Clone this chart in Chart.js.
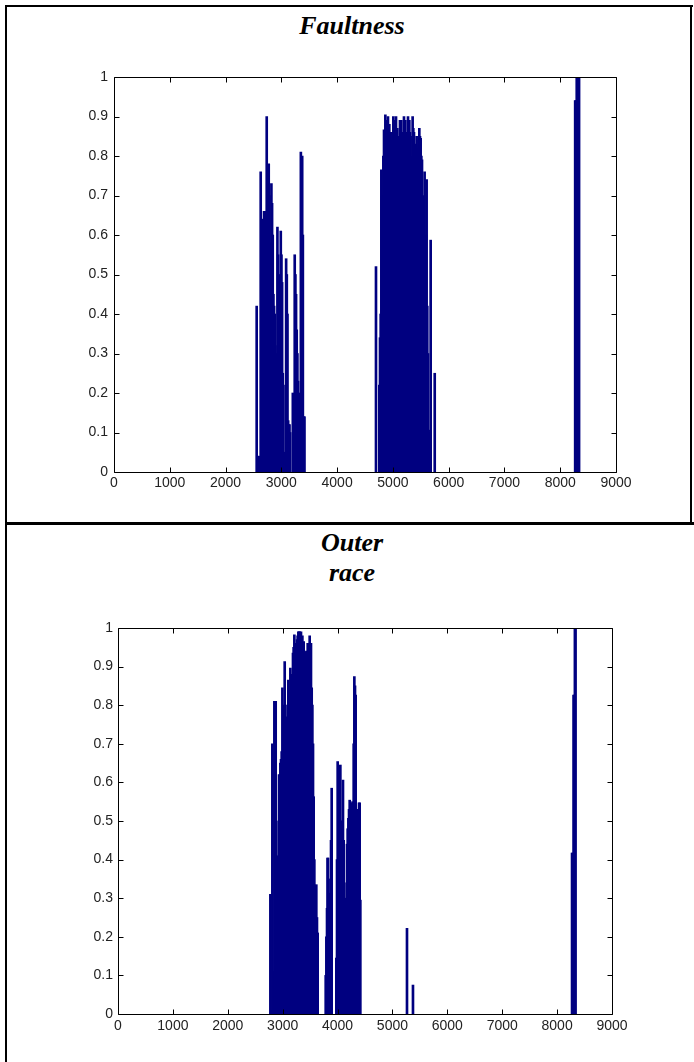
<!DOCTYPE html>
<html>
<head>
<meta charset="utf-8">
<script src="https://cdn.jsdelivr.net/npm/chart.js@4.4.1/dist/chart.umd.min.js"></script>
<style>
  html, body { margin: 0; padding: 0; background: #fff; }
  body { width: 694px; height: 1062px; position: relative; overflow: hidden; }
  .line { position: absolute; background: #000; }
  .title { position: absolute; font-family: "Liberation Serif", "Times New Roman", serif; font-weight: bold; font-style: italic; font-size: 26px; color: #000; text-align: center; line-height: 30px; }
  canvas { position: absolute; left: 0; }
</style>
</head>
<body>
<div class="line" style="left:5px;top:5px;width:688px;height:2px;"></div>
<div class="line" style="left:5px;top:5px;width:2px;height:1057px;"></div>
<div class="line" style="left:690px;top:5px;width:2px;height:518px;"></div>
<div class="line" style="left:5px;top:522px;width:689px;height:3px;"></div>
<div class="title" id="t1" style="left:252px;top:11px;width:200px;">Faultness</div>
<div class="title" id="t2" style="left:252px;top:528px;width:200px;">Outer<br>race</div>
<canvas id="c1" width="694" height="523" style="top:0;"></canvas>
<canvas id="c2" width="694" height="538" style="top:524px;"></canvas>
<script>
// ---------- data ----------
const xTickValues = [0, 1000, 2000, 3000, 4000, 5000, 6000, 7000, 8000, 9000];
const yTickValues = [0, 0.1, 0.2, 0.3, 0.4, 0.5, 0.6, 0.7, 0.8, 0.9, 1];

const faultX = [
  2558, 2582, 2600, 2630, 2642, 2654, 2666, 2678, 2690, 2702, 2714, 2726, 2738, 2750, 2762, 2774, 2786, 2798, 2810, 2822,
  2834, 2846, 2858, 2870, 2882, 2894, 2906, 2918, 2930, 2942, 2954, 2966, 2978, 2990, 3002, 3014, 3026, 3038, 3050, 3062,
  3086, 3098, 3110, 3122, 3134, 3146, 3158, 3206, 3218, 3240, 3252, 3264, 3276, 3288, 3300, 3312, 3350, 3362, 3374, 3386,
  3400, 3415,
  4697, 4757, 4769, 4781, 4793, 4805, 4817, 4829, 4841, 4853, 4865, 4877, 4888, 4900, 4912, 4924, 4936, 4948, 4960, 4972,
  4984, 4996, 5008, 5020, 5032, 5044, 5056, 5068, 5080, 5092, 5103, 5115, 5127, 5139, 5151, 5163, 5175, 5187, 5199, 5211,
  5223, 5235, 5247, 5259, 5271, 5283, 5295, 5307, 5318, 5330, 5342, 5354, 5366, 5378, 5390, 5402, 5414, 5426, 5438, 5450,
  5462, 5474, 5486, 5498, 5510, 5522, 5534, 5545, 5557, 5569, 5581, 5593, 5605, 5617, 5629, 5641, 5653, 5677, 5750,
  8268, 8282, 8296, 8310, 8324, 8338
];
const faultY = [
  0.42, 0.04, 0.04, 0.76, 0.64, 0.64, 0.42, 0.42, 0.66, 0.66, 0.60, 0.64, 0.90, 0.66, 0.64, 0.78, 0.70, 0.58, 0.56, 0.73,
  0.68, 0.60, 0.45, 0.42, 0.40, 0.32, 0.30, 0.28, 0.62, 0.55, 0.50, 0.02, 0.02, 0.61, 0.55, 0.48, 0.25, 0.22, 0.05, 0.05,
  0.54, 0.50, 0.40, 0.13, 0.12, 0.12, 0.10, 0.20, 0.18, 0.55, 0.50, 0.45, 0.36, 0.30, 0.23, 0.20, 0.81, 0.78, 0.80, 0.60,
  0.14, 0.14,
  0.52, 0.22, 0.34, 0.40, 0.765, 0.70, 0.60, 0.80, 0.866, 0.85, 0.904, 0.88, 0.89, 0.86, 0.90, 0.88, 0.88, 0.85, 0.86, 0.84,
  0.815, 0.86, 0.90, 0.88, 0.89, 0.87, 0.90, 0.85, 0.87, 0.84, 0.80, 0.85, 0.89, 0.87, 0.89, 0.84, 0.79, 0.86, 0.90, 0.87,
  0.89, 0.85, 0.815, 0.86, 0.90, 0.88, 0.89, 0.86, 0.85, 0.80, 0.71, 0.90, 0.87, 0.86, 0.82, 0.79, 0.83, 0.85, 0.82, 0.81,
  0.84, 0.87, 0.85, 0.845, 0.80, 0.79, 0.70, 0.545, 0.65, 0.76, 0.48, 0.60, 0.74, 0.42, 0.30, 0.106, 0.10, 0.587, 0.25,
  0.94, 0.94, 1.0, 1.0, 1.0, 1.0
];

const outerX = [
  2776, 2794, 2812, 2830, 2849, 2861, 2873, 2885, 2897, 2910, 2922, 2934, 2946, 2958, 2970, 2982, 2995, 3007, 3019, 3030,
  3037, 3045, 3055, 3067, 3079, 3091, 3103, 3115, 3128, 3140, 3152, 3164, 3176, 3188, 3200, 3213, 3225, 3237, 3249, 3261,
  3273, 3286, 3298, 3310, 3322, 3334, 3346, 3359, 3371, 3383, 3395, 3407, 3419, 3431, 3443, 3456, 3468, 3480, 3492, 3504,
  3516, 3529, 3541, 3553, 3565, 3577, 3589, 3601, 3613, 3625, 3638,
  3784, 3796, 3808, 3818, 3826, 3836, 3844, 3856, 3869, 3881, 3893,
  3978, 3990, 4002, 4014, 4026, 4038, 4051, 4063, 4075, 4087, 4099, 4111, 4124, 4136, 4148, 4160, 4172, 4184, 4197, 4209,
  4221, 4233, 4245, 4257, 4269, 4282, 4294, 4306, 4318, 4330, 4342, 4354, 4366, 4379, 4391, 4403, 4415,
  5265, 5374,
  8272, 8286, 8300, 8312, 8324, 8336
];
const outerY = [
  0.31, 0.01, 0.70, 0.11, 0.81, 0.81, 0.81, 0.50, 0.41, 0.40, 0.405, 0.62, 0.62, 0.65, 0.66, 0.68, 0.845, 0.62, 0.62, 0.80,
  0.913, 0.80, 0.762, 0.76, 0.77, 0.80, 0.865, 0.80, 0.796, 0.896, 0.80, 0.78, 0.88, 0.935, 0.95, 0.982, 0.96, 0.95, 0.96, 0.97,
  0.98, 0.99, 0.99, 0.99, 0.98, 0.99, 0.97, 0.98, 0.96, 0.965, 0.94, 0.939, 0.93, 0.92, 0.94, 0.96, 0.94, 0.822, 0.98, 0.95,
  0.96, 0.845, 0.80, 0.70, 0.563, 0.40, 0.334, 0.33, 0.335, 0.25, 0.21,
  0.10, 0.20, 0.274, 0.404, 0.404, 0.35, 0.313, 0.31, 0.31, 0.45, 0.585,
  0.145, 0.40, 0.654, 0.45, 0.252, 0.45, 0.645, 0.50, 0.425, 0.50, 0.606, 0.45, 0.34, 0.20, 0.07, 0.30, 0.44, 0.48, 0.507, 0.53,
  0.554, 0.55, 0.547, 0.45, 0.33, 0.55, 0.70, 0.874, 0.85, 0.826, 0.53, 0.24, 0.53, 0.53, 0.547, 0.547, 0.295,
  0.222, 0.075,
  0.417, 0.417, 0.826, 0.826, 1.0, 1.0
];

// ---------- helpers ----------
const BAR_COLOR = '#000080';
const TICK_FONT = { family: "'Liberation Sans', Arial, sans-serif", size: 14 };

const boxPlugin = {
  id: 'matlabBox',
  afterDraw(chart) {
    const ctx = chart.ctx;
    const a = chart.chartArea;
    const xs = chart.scales.x, ys = chart.scales.y;
    const L = Math.round(a.left) + 0.5, R = Math.round(a.right) + 0.5;
    const T = Math.round(a.top) + 0.5, B = Math.round(a.bottom) + 0.5;
    ctx.save();
    ctx.strokeStyle = '#000';
    ctx.lineWidth = 1;
    ctx.beginPath();
    ctx.rect(L, T, R - L, B - T);
    const len = 5;
    xs.ticks.forEach(t => {
      const px = Math.round(xs.getPixelForValue(t.value)) + 0.5;
      ctx.moveTo(px, B); ctx.lineTo(px, B - len);
      ctx.moveTo(px, T); ctx.lineTo(px, T + len);
    });
    ys.ticks.forEach(t => {
      const py = Math.round(ys.getPixelForValue(t.value)) + 0.5;
      ctx.moveTo(L, py); ctx.lineTo(L + len, py);
      ctx.moveTo(R, py); ctx.lineTo(R - len, py);
    });
    ctx.stroke();
    ctx.restore();
  }
};

function makeChart(canvasId, xs, ys, pad, yWidth, xHeight, yPad, xPad) {
  const points = xs.map((x, i) => ({ x: x, y: ys[i] }));
  return new Chart(document.getElementById(canvasId), {
    type: 'bar',
    data: {
      datasets: [{
        data: points,
        backgroundColor: BAR_COLOR,
        borderWidth: 0,
        barThickness: 2,
        grouped: false
      }]
    },
    options: {
      responsive: false,
      animation: false,
      devicePixelRatio: 1,
      layout: { padding: pad },
      plugins: { legend: { display: false }, tooltip: { enabled: false }, title: { display: false } },
      scales: {
        x: {
          type: 'linear',
          min: 0, max: 9000,
          offset: false,
          grid: { display: false, drawTicks: false },
          border: { display: false },
          afterBuildTicks(s) { s.ticks = xTickValues.map(v => ({ value: v })); },
          ticks: { font: TICK_FONT, color: '#222', padding: xPad, maxRotation: 0, autoSkip: false,
                   callback: v => String(v) },
          afterFit(s) { s.height = xHeight; }
        },
        y: {
          type: 'linear',
          min: 0, max: 1,
          grid: { display: false, drawTicks: false },
          border: { display: false },
          afterBuildTicks(s) { s.ticks = yTickValues.map(v => ({ value: v })); },
          ticks: { font: TICK_FONT, color: '#222', padding: yPad, autoSkip: false,
                   callback: v => String(Number(v.toFixed(1))) },
          afterFit(s) { s.width = yWidth; }
        }
      }
    },
    plugins: [boxPlugin]
  });
}

makeChart('c1', faultX, faultY, { top: 77, right: 78, left: 0, bottom: 0 }, 114, 51, 6, 3);
makeChart('c2', outerX, outerY, { top: 104, right: 82, left: 0, bottom: 0 }, 118, 48, 5, 4);
</script>
</body>
</html>
